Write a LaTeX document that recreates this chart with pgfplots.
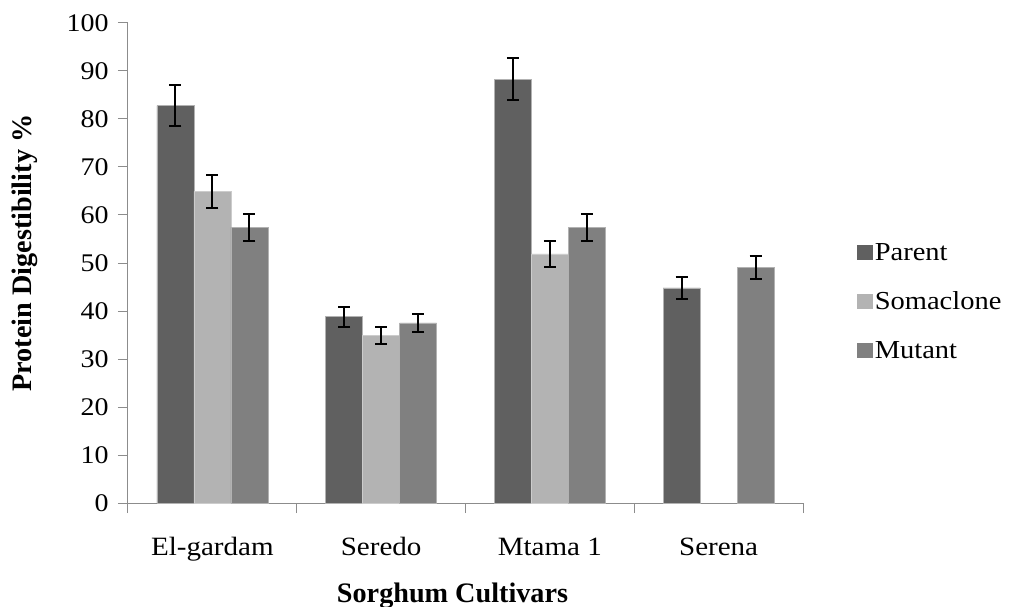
\documentclass[border=0pt]{standalone}
\usepackage{pgfplots}
\pgfplotsset{compat=1.18}
\usepackage{fontspec}
\setmainfont{Liberation Serif}[FakeStretch=1.1]
\newfontfamily\titlefont{Liberation Serif}
\definecolor{cParent}{HTML}{606060}
\definecolor{cSoma}{HTML}{B3B3B3}
\definecolor{cMut}{HTML}{808080}
\definecolor{axgray}{HTML}{8C8C8C}
\begin{document}
\begin{tikzpicture}
\useasboundingbox (-128bp,-104bp) rectangle (881bp,503bp);
\begin{axis}[
  at={(0,0)}, anchor=south west,
  scale only axis, width=675bp, height=480bp,
  ybar=0pt, bar width=37bp,
  xmin=-0.5, xmax=3.5, ymin=0, ymax=100,
  axis x line*=bottom, axis y line*=left,
  axis line style={axgray, line width=1pt},
  xtick={0,1,2,3},
  xticklabels={El-gardam,Seredo,Mtama 1,Serena},
  major x tick style={draw=none},
  minor xtick={-0.5,0.5,1.5,2.5,3.5},
  minor x tick style={axgray, line width=1pt},
  minor tick length=10bp,
  ytick={0,10,...,100},
  y tick style={axgray, line width=1pt},
  major tick length=10bp,
  tick align=outside,
  /pgf/number format/assume math mode=true,
  xticklabel style={font=\fontsize{26.5}{29}\selectfont, anchor=base, yshift=-42bp},
  yticklabel style={font=\fontsize{25.5}{28}\selectfont, xshift=-6bp},
  xlabel={\textbf{Sorghum Cultivars}},
  ylabel={\textbf{Protein Digestibility \%}},
  label style={font=\titlefont\fontsize{28.3}{31}\selectfont},
  xlabel style={at={(axis description cs:0.5,0)}, anchor=base, yshift=-99bp, xshift=-13bp},
  ylabel style={at={(axis description cs:0,0.5)}, anchor=center, yshift=103bp, xshift=10bp},
  legend style={at={(1.075,0.42)}, anchor=west, draw=none, fill=none,
    font=\fontsize{26}{29}\selectfont, row sep=26bp,
    /tikz/every even column/.append style={column sep=3bp}},
  legend cell align=left,
  legend image code/.code={\fill[#1,draw=none] (0bp,-8bp) rectangle (16bp,7bp);},
  error bars/y dir=both, error bars/y explicit,
  error bars/error bar style={black, line width=2bp},
  error bars/error mark options={rotate=90, mark size=6bp, line width=2bp, black},
]
\addplot[fill=cParent, draw=gray!60!white, line width=0.6pt] coordinates {
  (0,82.8) +- (0,4.3)
  (1,38.8) +- (0,2.1)
  (2,88.3) +- (0,4.4)
  (3,44.8) +- (0,2.3)
};
\addplot[fill=cSoma, draw=gray!40!white, line width=0.6pt] coordinates {
  (0,64.9) +- (0,3.4)
  (1,34.9) +- (0,1.8)
  (2,51.9) +- (0,2.65)
};
\addplot[fill=cMut, draw=gray!60!white, line width=0.6pt] coordinates {
  (0,57.4) +- (0,2.9)
  (1,37.5) +- (0,1.9)
  (2,57.4) +- (0,2.9)
  (3,49.0) +- (0,2.4)
};
\legend{Parent,Somaclone,Mutant}
\end{axis}
\end{tikzpicture}
\end{document}
